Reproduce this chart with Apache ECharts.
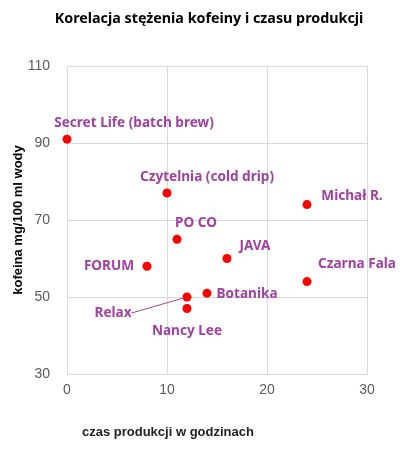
<!DOCTYPE html>
<html lang="pl">
<head>
<meta charset="utf-8">
<title>Korelacja stężenia kofeiny i czasu produkcji</title>
<script src="https://cdn.jsdelivr.net/npm/echarts@6/dist/echarts.min.js"></script>
<style>
  html, body { margin: 0; padding: 0; background: #fff; }
  #chart { width: 418px; height: 468px; }
</style>
</head>
<body>
<div id="chart"></div>
<script>
// dane
var names = ['Secret Life (batch brew)', 'Czytelnia (cold drip)', 'PO CO', 'FORUM', 'JAVA',
             'Michał R.', 'Czarna Fala', 'Botanika', 'Relax', 'Nancy Lee'];
var hours = [0, 10, 11, 8, 16, 24, 24, 14, 12, 12];
var caffeine = [91, 77, 65, 58, 60, 74, 54, 51, 50, 47];
var xTicks = [0, 10, 20, 30];
var yTicks = [30, 50, 70, 90, 110];

// przesunięcia etykiet (px) wzgledem punktu
var labelShift = [
  [67, -16], [40, -16], [19, -16], [-38, 0], [28, -12],
  [45, -8], [50, -17], [40, 1], [-74, 16], [0, 23]
];

var chart = echarts.init(document.getElementById('chart'), null, { renderer: 'canvas' });

var points = hours.map(function (h, i) {
  var item = { value: [h, caffeine[i]], name: names[i] };
  if (i === 8) {
    item.labelLine = { show: true, lineStyle: { color: '#a040a0', width: 1 } };
  }
  return item;
});

var arial = 'Arial, "Liberation Sans", sans-serif';
var labelFont = '"Noto Sans", sans-serif';
var axisLabel = { color: '#595959', fontSize: 14, fontFamily: arial };

chart.setOption({
  animation: false,
  title: {
    text: 'Korelacja stężenia kofeiny i czasu produkcji',
    left: 'center',
    top: 7,
    textStyle: { fontSize: 14.3, fontWeight: 'bold', color: '#000', fontFamily: labelFont }
  },
  grid: { left: 67, right: 51, top: 66, bottom: 94, containLabel: false, outerBoundsMode: 'none' },
  xAxis: {
    type: 'value',
    min: xTicks[0], max: xTicks[xTicks.length - 1], interval: 10,
    axisLine: { show: true, lineStyle: { color: '#d9d9d9' } },
    axisTick: { show: false },
    axisLabel: Object.assign({ margin: 9 }, axisLabel),
    splitLine: { show: true, lineStyle: { color: '#d9d9d9' } }
  },
  yAxis: {
    type: 'value',
    min: yTicks[0], max: yTicks[yTicks.length - 1], interval: 20,
    name: 'kofeina mg/100 ml wody',
    nameLocation: 'middle',
    nameGap: 42,
    nameMoveOverlap: false,
    nameTextStyle: { fontSize: 13, fontWeight: 'bold', color: '#000', fontFamily: arial },
    axisLine: { show: true, lineStyle: { color: '#d9d9d9' } },
    axisTick: { show: false },
    axisLabel: Object.assign({ margin: 17 }, axisLabel),
    splitLine: { show: true, lineStyle: { color: '#d9d9d9' } }
  },
  graphic: [{
    type: 'text',
    left: 82,
    top: 426,
    style: {
      text: 'czas produkcji w godzinach',
      font: 'bold 13px Arial, "Liberation Sans", sans-serif',
      fill: '#222'
    }
  }],
  series: [{
    type: 'scatter',
    data: points,
    symbolSize: 9,
    itemStyle: { color: '#ff0000', opacity: 1 },
    label: {
      show: true,
      position: 'inside',
      formatter: '{b}',
      color: '#a040a0',
      fontWeight: 'bold',
      fontSize: 13.6,
      fontFamily: labelFont
    },
    labelLayout: function (params) {
      var s = labelShift[params.dataIndex];
      return { dx: s[0], dy: s[1] };
    }
  }]
});
</script>
</body>
</html>
